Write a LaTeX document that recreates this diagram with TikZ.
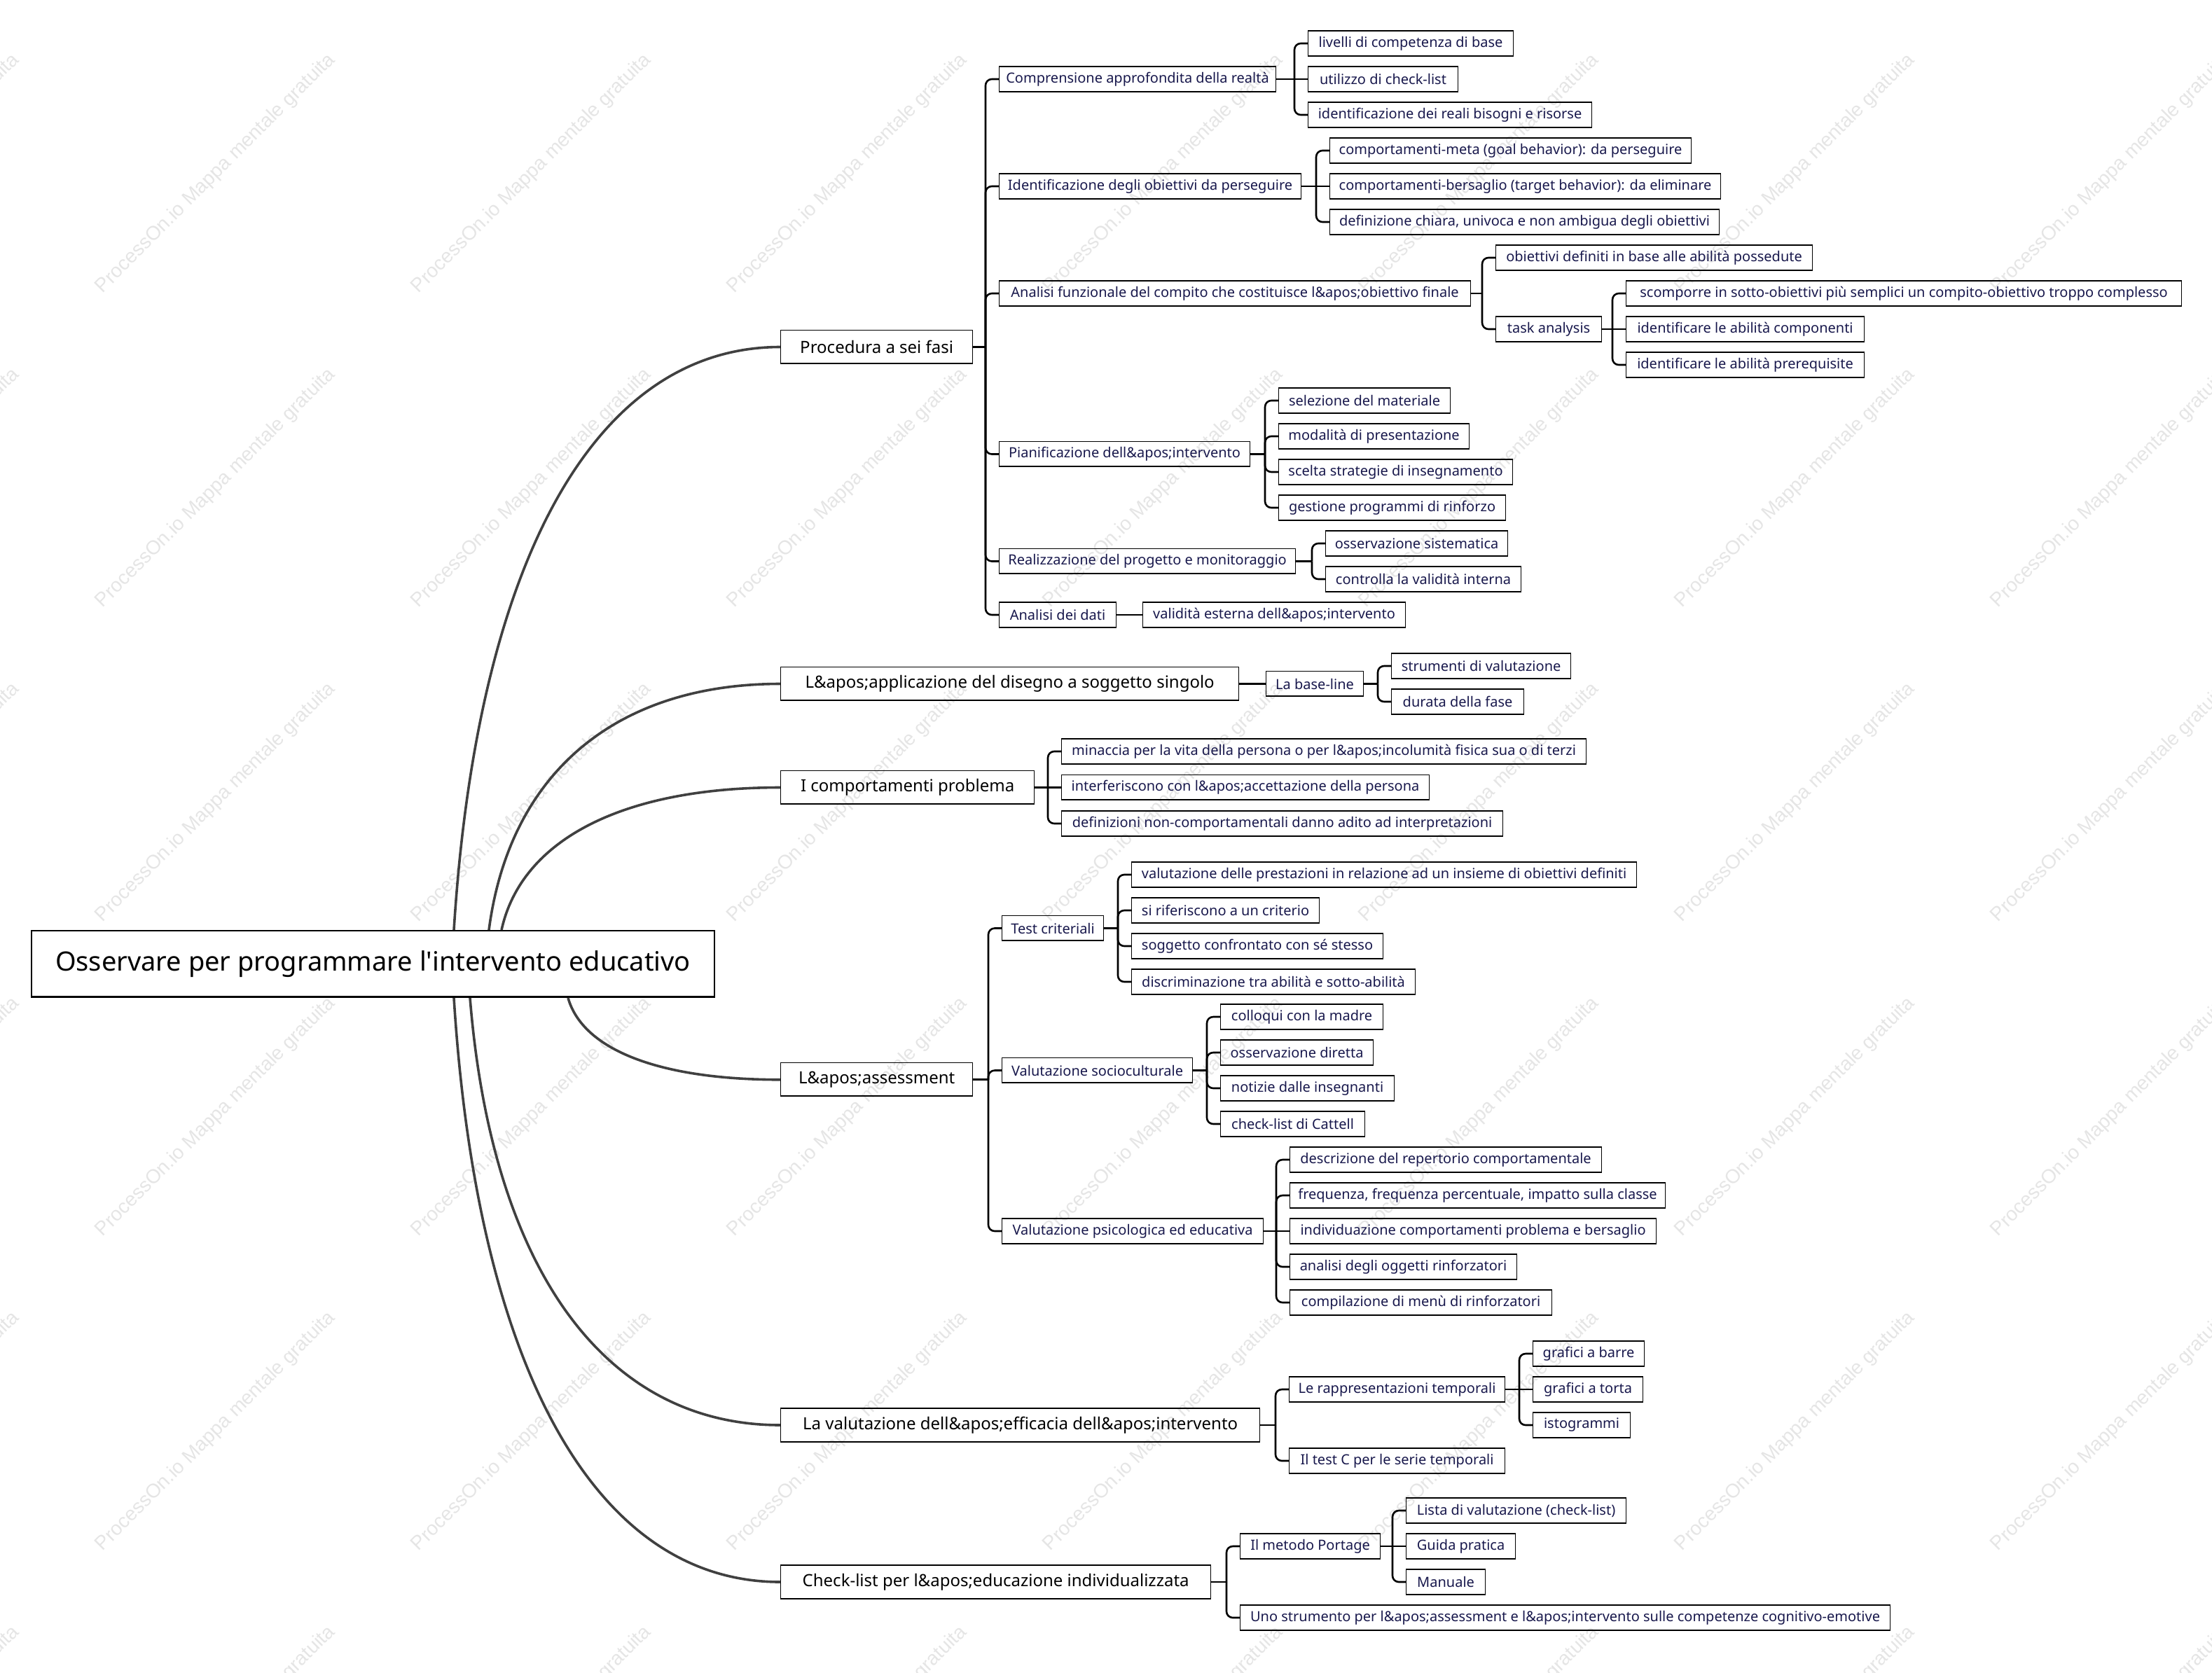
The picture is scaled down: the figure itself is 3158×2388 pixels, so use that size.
\documentclass[tikz,border=0pt]{standalone}
\usepackage{fontspec}
\setmainfont{Noto Sans}
\newfontfamily\wmfont{Liberation Sans}
\usetikzlibrary{calc}
\definecolor{navytext}{RGB}{24,24,76}
\definecolor{curvegray}{RGB}{64,64,64}
\definecolor{wmgray}{RGB}{229,229,229}
\tikzset{
  rootbox/.style={draw, line width=2pt, anchor=west, minimum width=975pt, minimum height=95pt,
    font=\fontsize{38}{44}\selectfont, text=black,
    path picture={\draw[line width=4pt] (path picture bounding box.south west) -- (path picture bounding box.south east);}},
  lone/.style={draw, line width=1.3pt, anchor=west, minimum height=48pt, inner xsep=8pt, inner ysep=0pt,
    font=\fontsize{24}{28}\selectfont, text=black,
    path picture={\draw[line width=3pt] (path picture bounding box.south west) -- (path picture bounding box.south east);}},
  lf/.style={draw, line width=1.1pt, anchor=west, minimum height=36pt, inner xsep=6pt, inner ysep=0pt,
    font=\fontsize{20}{24}\selectfont, text=navytext,
    path picture={\draw[line width=2.6pt] (path picture bounding box.south west) -- (path picture bounding box.south east);}},
  conn/.style={draw=black, line width=2.6pt, rounded corners=9pt},
  straightconn/.style={draw=black, line width=2.6pt},
  curveline/.style={draw=curvegray, line width=3.6pt},
  wm/.style={font=\wmfont\fontsize{28}{32}\selectfont, text=wmgray, rotate=45}
}
% stub from parent to its spine
\newcommand\stubto[2]{\draw[straightconn] (#1.east) -- ($(#2.west |- #1.east)+(-19,0)$);}
% rounded branch from spine to a child above or below the parent
\newcommand\branchto[2]{\draw[conn] ($(#2.west |- #1.east)+(-19,0)$) |- (#2.west);}
% straight branch to a child level with the parent
\newcommand\midto[2]{\draw[straightconn] (#1.east) -- (#2.west);}
\begin{document}
\begin{tikzpicture}[x=1pt,y=-1pt]
\useasboundingbox (0,0) rectangle (3158,2388);
% watermark
\begin{scope}
\clip (0,0) rectangle (3158,2388);
\foreach \i in {-1,...,6} {
  \foreach \j in {-1,...,5} {
    \node[wm] (wm\i\j) at ({308+451*\i},{248+449*\j}) {ProcessOn.io Mappa mentale gratuita};
  }
}
\end{scope}

% root
\node[rootbox] (root) at (44,1376.5) {Osservare per programmare l\textquotesingle intervento educativo};

% level 1
\node[lone, minimum width=274pt] (p1) at (1114,495.5) {Procedura a sei fasi};
\node[lone, minimum width=654pt] (p2) at (1114,976.5) {L\&apos;applicazione del disegno a soggetto singolo};
\node[lone, minimum width=362pt] (p3) at (1114,1124.5) {I comportamenti problema};
\node[lone, minimum width=274pt] (p4) at (1114,1541.75) {L\&apos;assessment};
\node[lone, minimum width=684pt] (p5) at (1114,2035) {La valutazione dell\&apos;efficacia dell\&apos;intervento};
\node[lone, minimum width=614pt] (p6) at (1114,2259) {Check-list per l\&apos;educazione individualizzata};

% Procedura subtree
\node[lf, minimum width=395pt] (a1) at (1426,113) {Comprensione approfondita della realtà};
\node[lf, minimum width=293pt] (a1a) at (1867,62) {livelli di competenza di base};
\node[lf, minimum width=214pt] (a1b) at (1867,113) {utilizzo di check-list};
\node[lf, minimum width=405pt] (a1c) at (1867,164) {identificazione dei reali bisogni e risorse};
\node[lf, minimum width=431pt] (a2) at (1426,266) {Identificazione degli obiettivi da perseguire};
\node[lf, minimum width=516pt] (a2a) at (1898,215) {comportamenti-meta (goal behavior): da perseguire};
\node[lf, minimum width=558pt] (a2b) at (1898,266) {comportamenti-bersaglio (target behavior): da eliminare};
\node[lf, minimum width=556pt] (a2c) at (1898,317) {definizione chiara, univoca e non ambigua degli obiettivi};
\node[lf, minimum width=673pt] (a3) at (1426,419) {Analisi funzionale del compito che costituisce l\&apos;obiettivo finale};
\node[lf, minimum width=452pt] (a3a) at (2135,368) {obiettivi definiti in base alle abilità possedute};
\node[lf, minimum width=151pt] (a3b) at (2135,470) {task analysis};
\node[lf, minimum width=793pt] (tka) at (2321,419) {scomporre in sotto-obiettivi più semplici un compito-obiettivo troppo complesso};
\node[lf, minimum width=340pt] (tkb) at (2321,470) {identificare le abilità componenti};
\node[lf, minimum width=340pt] (tkc) at (2321,521) {identificare le abilità prerequisite};
\node[lf, minimum width=358pt] (a4) at (1426,648.5) {Pianificazione dell\&apos;intervento};
\node[lf, minimum width=245pt] (a4a) at (1825,572) {selezione del materiale};
\node[lf, minimum width=272pt] (a4b) at (1825,623) {modalità di presentazione};
\node[lf, minimum width=334pt] (a4c) at (1825,674) {scelta strategie di insegnamento};
\node[lf, minimum width=324pt] (a4d) at (1825,725) {gestione programmi di rinforzo};
\node[lf, minimum width=423pt] (a5) at (1426,801.5) {Realizzazione del progetto e monitoraggio};
\node[lf, minimum width=260pt] (a5a) at (1892,776) {osservazione sistematica};
\node[lf, minimum width=279pt] (a5b) at (1892,827) {controlla la validità interna};
\node[lf, minimum width=167pt] (a6) at (1426,878) {Analisi dei dati};
\node[lf, minimum width=375pt] (a6a) at (1631,878) {validità esterna dell\&apos;intervento};

% applicazione subtree
\node[lf, minimum width=139pt] (b1) at (1807,976.5) {La base-line};
\node[lf, minimum width=256pt] (b1a) at (1986,951) {strumenti di valutazione};
\node[lf, minimum width=189pt] (b1b) at (1986,1002) {durata della fase};

% comportamenti problema
\node[lf, minimum width=749pt] (c1) at (1515,1073) {minaccia per la vita della persona o per l\&apos;incolumità fisica sua o di terzi};
\node[lf, minimum width=525pt] (c2) at (1515,1124.5) {interferiscono con l\&apos;accettazione della persona};
\node[lf, minimum width=630pt] (c3) at (1515,1176) {definizioni non-comportamentali danno adito ad interpretazioni};

% assessment
\node[lf, minimum width=145pt] (d1) at (1430,1325.5) {Test criteriali};
\node[lf, minimum width=721pt] (d1a) at (1615,1249) {valutazione delle prestazioni in relazione ad un insieme di obiettivi definiti};
\node[lf, minimum width=268pt] (d1b) at (1615,1300) {si riferiscono a un criterio};
\node[lf, minimum width=359pt] (d1c) at (1615,1351) {soggetto confrontato con sé stesso};
\node[lf, minimum width=405pt] (d1d) at (1615,1402) {discriminazione tra abilità e sotto-abilità};
\node[lf, minimum width=272pt] (d2) at (1430,1528.5) {Valutazione socioculturale};
\node[lf, minimum width=232pt] (d2a) at (1742,1452) {colloqui con la madre};
\node[lf, minimum width=218pt] (d2b) at (1742,1503) {osservazione diretta};
\node[lf, minimum width=248pt] (d2c) at (1742,1554) {notizie dalle insegnanti};
\node[lf, minimum width=206pt] (d2d) at (1742,1605) {check-list di Cattell};
\node[lf, minimum width=373pt] (d3) at (1430,1758) {Valutazione psicologica ed educativa};
\node[lf, minimum width=445pt] (d3a) at (1841,1656) {descrizione del repertorio comportamentale};
\node[lf, minimum width=536pt] (d3b) at (1841,1707) {frequenza, frequenza percentuale, impatto sulla classe};
\node[lf, minimum width=523pt] (d3c) at (1841,1758) {individuazione comportamenti problema e bersaglio};
\node[lf, minimum width=324pt] (d3d) at (1841,1809) {analisi degli oggetti rinforzatori};
\node[lf, minimum width=374pt] (d3e) at (1841,1860) {compilazione di menù di rinforzatori};

% valutazione efficacia
\node[lf, minimum width=308pt] (e1) at (1840,1984) {Le rappresentazioni temporali};
\node[lf, minimum width=159pt] (e1a) at (2188,1933) {grafici a barre};
\node[lf, minimum width=157pt] (e1b) at (2188,1984) {grafici a torta};
\node[lf, minimum width=139pt] (e1c) at (2188,2035) {istogrammi};
\node[lf, minimum width=308pt] (e2) at (1840,2086) {Il test C per le serie temporali};

% check-list
\node[lf, minimum width=200pt] (f1) at (1770,2208) {Il metodo Portage};
\node[lf, minimum width=314pt] (f1a) at (2007,2157) {Lista di valutazione (check-list)};
\node[lf, minimum width=156pt] (f1b) at (2007,2208) {Guida pratica};
\node[lf, minimum width=113pt] (f1c) at (2007,2259) {Manuale};
\node[lf, minimum width=928pt] (f2) at (1770,2310) {Uno strumento per l\&apos;assessment e l\&apos;intervento sulle competenze cognitivo-emotive};

% root curves
\draw[curveline] ([xshift=604pt]root.north west) .. controls +(33,-525) and +(-266,0) .. (p1.west);
\draw[curveline] ([xshift=654pt]root.north west) .. controls +(29,-222) and +(-237,0) .. (p2.west);
\draw[curveline] ([xshift=672pt]root.north west) .. controls +(28,-128) and +(-227,0) .. (p3.west);
\draw[curveline] ([xshift=767pt]root.south west) .. controls +(21,74) and +(-173,0) .. (p4.west);
\draw[curveline] ([xshift=627pt]root.south west) .. controls +(31,384) and +(-253,0) .. (p5.west);
\draw[curveline] ([xshift=604pt]root.south west) .. controls +(33,525) and +(-266,0) .. (p6.west);

% tree connectors
\stubto{p1}{a1}
\foreach \c in {a1,a2,a3,a4,a5,a6} {\branchto{p1}{\c}}
\stubto{a1}{a1a}
\foreach \c in {a1a,a1c} {\branchto{a1}{\c}}
\midto{a1}{a1b}
\stubto{a2}{a2a}
\foreach \c in {a2a,a2c} {\branchto{a2}{\c}}
\midto{a2}{a2b}
\stubto{a3}{a3a}
\foreach \c in {a3a,a3b} {\branchto{a3}{\c}}
\stubto{a3b}{tka}
\foreach \c in {tka,tkc} {\branchto{a3b}{\c}}
\midto{a3b}{tkb}
\stubto{a4}{a4a}
\foreach \c in {a4a,a4b,a4c,a4d} {\branchto{a4}{\c}}
\stubto{a5}{a5a}
\foreach \c in {a5a,a5b} {\branchto{a5}{\c}}
\midto{a6}{a6a}

\midto{p2}{b1}
\stubto{b1}{b1a}
\foreach \c in {b1a,b1b} {\branchto{b1}{\c}}

\stubto{p3}{c1}
\foreach \c in {c1,c3} {\branchto{p3}{\c}}
\midto{p3}{c2}

\stubto{p4}{d1}
\foreach \c in {d1,d2,d3} {\branchto{p4}{\c}}
\stubto{d1}{d1a}
\foreach \c in {d1a,d1b,d1c,d1d} {\branchto{d1}{\c}}
\stubto{d2}{d2a}
\foreach \c in {d2a,d2b,d2c,d2d} {\branchto{d2}{\c}}
\stubto{d3}{d3a}
\foreach \c in {d3a,d3b,d3d,d3e} {\branchto{d3}{\c}}
\midto{d3}{d3c}

\stubto{p5}{e1}
\foreach \c in {e1,e2} {\branchto{p5}{\c}}
\stubto{e1}{e1a}
\foreach \c in {e1a,e1c} {\branchto{e1}{\c}}
\midto{e1}{e1b}

\stubto{p6}{f1}
\foreach \c in {f1,f2} {\branchto{p6}{\c}}
\stubto{f1}{f1a}
\foreach \c in {f1a,f1c} {\branchto{f1}{\c}}
\midto{f1}{f1b}
\end{tikzpicture}
\end{document}
